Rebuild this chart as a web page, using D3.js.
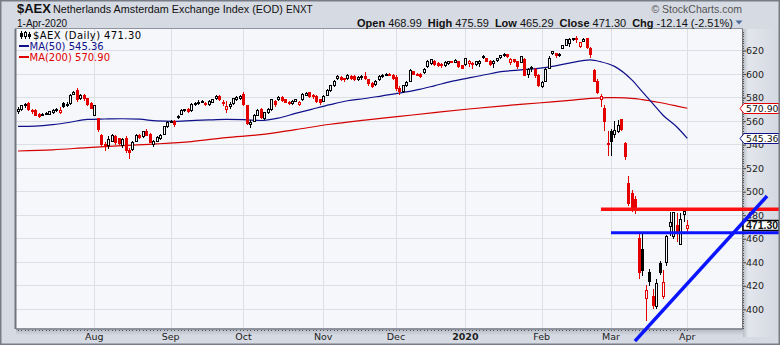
<!DOCTYPE html>
<html>
<head>
<meta charset="utf-8">
<script src="https://cdn.jsdelivr.net/npm/d3@7"></script>
<style>
    html, body { margin: 0; padding: 0; background: #d6dae3; }
    svg { display: block; }
</style>
</head>
<body>
<div id="chart"></div>
<script>
(function () {
    "use strict";

    // trading calendar (Euronext): weekdays between these dates, minus holidays
    var firstDay = "2019-07-02",
        lastDay = "2020-04-01",
        holidays = ["2019-12-25", "2019-12-26", "2020-01-01"];

    // daily OHLC, one row per month (Jul 2019 .. Apr 2020)
    var opens = [
        568, 570, 573, 575, 569, 569, 566, 565, 566, 566, 567, 569, 567, 575, 573, 575, 583, 586, 579, 582, 579, 575,
        565, 562, 548, 540, 539, 543, 547, 545, 539, 545, 535, 536, 543, 548, 547, 551, 549, 540, 543, 545, 549, 555,
        559, 560, 563, 566, 569, 570, 569, 574, 575, 576, 575, 574, 576, 579, 581, 575, 570, 572, 575, 578, 579,
        583, 573, 557, 560, 565, 570, 562, 567, 570, 577, 578, 580, 578, 576, 575, 577, 574, 578, 582, 584, 582, 581, 578,
        577, 582, 586, 590, 596, 597, 596, 596, 598, 598, 595, 598, 598, 595, 592, 591, 595, 598, 599, 600, 599,
        597, 588, 585, 590, 594, 602, 600, 600, 601, 606, 609, 611, 609, 608, 607, 609, 610, 610, 610.5, 607,
        608, 609, 609, 608, 609, 615, 613.5, 611, 609, 611.5, 614, 615.5, 616.5, 609.5, 612, 610.5, 610, 612.5, 599.5, 604.5, 604, 599,
        589.5, 593.5, 605, 617.5, 617.5, 615.5, 621.5, 624.5, 626, 629.5, 630.5, 623.5, 628, 630, 621.5, 603, 594, 578, 571, 541,
        551, 549, 551.5, 561, 541, 507, 498.6, 493, 460, 451, 409, 431, 411, 402, 439, 411, 440, 470, 462, 471, 455, 481,
        468.99
    ];
    var highs = [
        572, 574, 575, 576, 570, 570, 567, 567, 568, 569, 570, 571, 572, 576, 576, 583, 586, 588, 583, 583, 580, 576,
        574, 563, 549, 542, 547, 549, 548, 546, 546, 547, 537, 543, 549, 549, 552, 553, 550, 544, 547, 549, 556, 560,
        561, 561, 565, 570, 570, 571, 575, 576, 578, 578, 576, 578, 579, 582, 582, 578, 577, 576, 580, 581, 582,
        585, 574, 561, 566, 570, 571, 568, 571, 579, 578, 581, 581, 579, 577, 578, 579, 577, 584, 585, 585, 583, 582, 579,
        582, 587, 591, 595, 599, 598, 597, 600, 599, 599, 598, 599, 602, 596, 593, 595, 599, 600, 601, 601, 600,
        599, 590, 591, 594, 604, 603, 601, 601, 605, 612, 613, 612, 610, 609, 611, 611, 611, 613, 611, 608,
        614, 612, 610, 611, 612, 616, 614, 612, 612, 614, 616.5, 617.5, 617, 614, 613, 611, 615.5, 614, 605, 606.5, 605, 600,
        594, 605, 615, 620, 618, 617.5, 625, 629.5, 630.5, 631, 632.5, 627, 630.5, 630.5, 623, 604, 596, 583, 574, 552,
        553, 560, 561, 562, 542, 513, 501, 496, 466, 466, 421, 434, 417, 426, 441, 433, 463, 483, 483, 481.5, 482, 484,
        475.59
    ];
    var lows = [
        566, 569, 571, 569, 566, 564, 563, 564, 565, 565, 566, 568, 566, 571, 572, 574, 582, 576, 578, 577, 573, 570,
        564, 551, 538, 535, 536, 542, 540, 540, 537, 533, 528, 535, 542, 545, 546, 547, 541, 538, 542, 544, 548, 554,
        558, 555, 562, 565, 568, 567, 568, 573, 574, 575, 573, 573, 575, 578, 577, 573, 567, 570, 574, 577, 578,
        573, 557, 554, 559, 564, 562, 561, 566, 569, 572, 577, 576, 575, 574, 574, 576, 573, 577, 581, 580, 579, 575, 574,
        576, 581, 585, 589, 595, 594, 593, 595, 595, 594, 594, 595, 595, 590, 588, 590, 594, 597, 598, 598, 595,
        586, 582, 584, 589, 593, 599, 598, 597, 600, 605, 608, 607, 606, 605, 606, 608, 609, 609, 605, 604,
        607, 606, 604, 607, 606, 613, 610, 607, 605, 610, 613, 614.5, 614, 608, 609.5, 604, 609, 598, 597, 602, 597, 589,
        588, 593, 604, 616, 614, 614.5, 621, 624, 623, 628, 626, 622, 627.5, 621, 613.5, 593, 583, 572, 552, 530,
        530, 546, 550, 552, 527, 488, 483, 481, 426, 428, 390, 420, 400, 400, 429, 409, 437, 462, 460, 457.5, 455, 474,
        465.29
    ];
    var closes = [
        570, 573, 574, 570, 568, 565, 564, 566, 566.5, 568, 569, 570, 569, 572, 574, 582, 584, 578, 582, 579, 574, 571,
        573, 553, 540, 538, 544, 548, 542, 541, 544, 535, 533, 542, 548, 546, 551, 548, 542, 543, 546, 548, 555, 559,
        560, 557, 564, 569, 569.5, 568, 574, 575, 576, 577, 574, 577, 578, 580.5, 578, 576, 572, 574.5, 579, 580, 581,
        574, 558, 559, 565, 569, 563, 567, 569.5, 578, 574, 580, 577.5, 576, 575, 577, 578, 576, 583, 583.5, 581, 580.5, 577, 576,
        581, 586, 590, 594, 597.5, 595.5, 595, 599, 596.5, 595, 597, 597.5, 596, 592, 589.5, 594, 598, 599, 600, 599, 596,
        588, 585, 590, 593, 603, 600, 599.5, 597.5, 604, 611, 612, 608, 607.5, 607, 609.5, 610.5, 610.3, 611.5, 606, 605,
        613, 611, 608, 610.5, 611, 613.8, 611, 608.5, 611, 613, 615.5, 616.5, 615, 612, 610.5, 606, 614.5, 599, 604, 605.5, 598.5, 590,
        592.5, 604, 613, 619, 616, 617, 624.5, 629, 629.6, 630.2, 629.8, 626.5, 629.5, 622.5, 616.5, 594, 584, 581, 560, 540,
        543, 552, 556.5, 553, 530, 490, 486, 485, 431, 433, 416, 424, 403, 422, 431, 423, 461.5, 474, 482, 466, 476, 483.44,
        471.30
    ];

    var ma50At = [0, 5, 10, 15, 20, 25, 30, 35, 40, 45, 50, 55, 60, 65, 70, 75, 80, 85, 90, 95, 100, 105, 110, 115,
        120, 125, 130, 135, 140, 145, 150, 155, 160, 165, 168, 172, 177, 180, 183, 186, 190, 193];
    var ma50 = [555.5, 555.8, 557, 559, 561.5, 561.8, 562, 561.6, 560.2, 559.8, 560.4, 561, 561.4, 561.3, 560.5, 562.5,
        566.5, 570.3, 574, 577.3, 579.2, 581.5, 583.8, 586.5, 590, 593.7, 596.7, 599.6, 602.2, 603.5, 604.8, 607, 610,
        612, 610.5, 606.5, 595, 585, 575, 565, 555, 545.36];
    var ma200At = [0, 10, 20, 30, 40, 50, 60, 70, 80, 90, 100, 110, 120, 130, 140, 150, 160, 170, 175, 180, 185, 190, 193];
    var ma200 = [534.6, 535.6, 537.5, 539.2, 540.6, 542.6, 546, 548.5, 552.8, 557.3, 560.8, 564, 567.2, 570.3, 573,
        575.4, 577.9, 579.9, 579.8, 578.3, 575.8, 572.8, 570.9];

    // hand-drawn annotations: two levels and a rising trend line
    var levelValues = [485, 465],
        levelStarts = [168.1, 171];
    var trendAt = [177.9, 216],
        trendValues = [373, 496.3];

    var monthKeys = ["2019-08", "2019-09", "2019-10", "2019-11", "2019-12", "2020-01", "2020-02", "2020-03", "2020-04"],
        monthLabels = ["Aug", "Sep", "Oct", "Nov", "Dec", "2020", "Feb", "Mar", "Apr"];
    var priceTicks = [400, 420, 440, 460, 480, 500, 520, 540, 560, 580, 600, 620];

    var quoteLabels = ["Open", "High", "Low", "Close", "Chg"],
        quoteValues = ["468.99", "475.59", "465.29", "471.30", "-12.14 (-2.51%)"];

    var width = 780,
        height = 345,
        plotL = 16, plotT = 29, plotR = 743, plotB = 329,
        plotBg = "#f6f7fb",
        red = "#e50000",
        navy = "#10108a",
        axisFont = "'DejaVu Sans', Verdana, sans-serif",
        headFont = "'Liberation Sans', Arial, sans-serif";

    var parse = d3.utcParse("%Y-%m-%d"),
        dayKey = d3.utcFormat("%Y-%m-%d"),
        monthKey = d3.utcFormat("%Y-%m");

    var days = d3.utcDay.range(parse(firstDay), d3.utcDay.offset(parse(lastDay), 1))
        .filter(function (d) {
            return d.getUTCDay() % 6 !== 0 && holidays.indexOf(dayKey(d)) < 0;
        });

    var bars = days.map(function (d, i) {
        return { i: i, date: d, o: opens[i], h: highs[i], l: lows[i], c: closes[i], prev: i ? closes[i - 1] : opens[i] };
    });

    var x = d3.scaleLinear().domain([-0.58, 209.06]).range([plotL, plotR]),
        y = d3.scaleLinear().domain([383.25, 638.3]).range([plotB, plotT]);

    var svg = d3.select("#chart").append("svg")
        .attr("width", width)
        .attr("height", height);

    var defs = svg.append("defs");
    var side = defs.append("linearGradient").attr("id", "side");
    side.append("stop").attr("offset", "0%").attr("stop-color", "#b9bec8");
    side.append("stop").attr("offset", "14%").attr("stop-color", "#e3e6ec");
    side.append("stop").attr("offset", "100%").attr("stop-color", "#d3d7e0");
    var under = defs.append("linearGradient").attr("id", "under")
        .attr("x1", 0).attr("x2", 0).attr("y1", 0).attr("y2", 1);
    under.append("stop").attr("offset", "0%").attr("stop-color", "#b3b8c2");
    under.append("stop").attr("offset", "45%").attr("stop-color", "#d6dae3");
    under.append("stop").attr("offset", "100%").attr("stop-color", "#d6dae3");
    defs.append("clipPath").attr("id", "plotclip").append("rect")
        .attr("x", plotL).attr("y", plotT).attr("width", plotR - plotL).attr("height", plotB - plotT);

    svg.append("rect").attr("width", width).attr("height", height).attr("fill", "#d6dae3");
    svg.append("rect").attr("x", plotR).attr("y", plotT).attr("width", width - plotR).attr("height", plotB - plotT + 8)
        .attr("fill", "url(#side)");
    svg.append("rect").attr("x", plotL).attr("y", plotB).attr("width", plotR - plotL).attr("height", 14)
        .attr("fill", "url(#under)");
    svg.append("rect").attr("x", plotL).attr("y", plotT).attr("width", plotR - plotL).attr("height", plotB - plotT)
        .attr("fill", plotBg);

    // grid
    var grid = svg.append("g").attr("stroke", "#dcdfe6").attr("stroke-width", 1).attr("shape-rendering", "crispEdges");
    grid.selectAll("line.h").data(priceTicks).enter().append("line")
        .attr("x1", plotL).attr("x2", plotR)
        .attr("y1", function (d) { return y(d); })
        .attr("y2", function (d) { return y(d); });

    var monthIdx = monthKeys.map(function (k) {
        return d3.bisector(function (b) { return monthKey(b.date); }).left(bars, k);
    });
    grid.selectAll("line.v").data(monthIdx).enter().append("line")
        .attr("y1", plotT).attr("y2", plotB)
        .attr("x1", function (d) { return Math.round(x(d)) + 0.5; })
        .attr("x2", function (d) { return Math.round(x(d)) + 0.5; });

    var plot = svg.append("g").attr("clip-path", "url(#plotclip)");

    // moving averages
    var maLine = d3.line()
        .x(function (d) { return x(d[0]); })
        .y(function (d) { return y(d[1]); })
        .curve(d3.curveMonotoneX);
    plot.append("path").datum(d3.zip(ma200At, ma200))
        .attr("d", maLine).attr("fill", "none").attr("stroke", "#d40000").attr("stroke-width", 1.2);
    plot.append("path").datum(d3.zip(ma50At, ma50))
        .attr("d", maLine).attr("fill", "none").attr("stroke", navy).attr("stroke-width", 1.2);

    // candles: red when close < previous close, hollow when close > open
    var colour = function (d) { return d.c < d.prev ? red : "#000"; };
    var candles = plot.append("g").attr("shape-rendering", "crispEdges")
        .selectAll("g").data(bars).enter().append("g");
    candles.append("line")
        .attr("x1", function (d) { return Math.round(x(d.i)) + 0.5; })
        .attr("x2", function (d) { return Math.round(x(d.i)) + 0.5; })
        .attr("y1", function (d) { return y(d.h); })
        .attr("y2", function (d) { return y(d.l); })
        .attr("stroke", colour);
    candles.append("rect")
        .attr("x", function (d) { return Math.round(x(d.i)) - 0.5; })
        .attr("width", 2)
        .attr("y", function (d) { return y(Math.max(d.o, d.c)); })
        .attr("height", function (d) { return Math.max(1, Math.abs(y(d.o) - y(d.c))); })
        .attr("fill", function (d) { return d.c > d.o ? plotBg : colour(d); })
        .attr("stroke", colour);

    // frame and axes
    svg.append("rect").attr("x", plotL - 0.5).attr("y", plotT - 0.5)
        .attr("width", plotR - plotL).attr("height", plotB - plotT)
        .attr("fill", "none").attr("stroke", "#8f949e");
    svg.append("line").attr("x1", plotL - 0.5).attr("x2", plotL - 0.5).attr("y1", plotT).attr("y2", plotB)
        .attr("stroke", "#6f747e").attr("stroke-width", 2);

    var yAxis = svg.append("g").attr("transform", "translate(" + plotR + ",0)")
        .call(d3.axisRight(y).tickValues(priceTicks).tickSize(3).tickPadding(0));
    yAxis.select(".domain").remove();
    yAxis.selectAll(".tick line").attr("stroke", "#444");
    yAxis.selectAll(".tick text").attr("font-family", axisFont).attr("font-size", "9.5px").attr("fill", "#222")
        .attr("x", 3);
    svg.append("g").attr("stroke", "#555").attr("shape-rendering", "crispEdges")
        .selectAll("line").data(d3.range(384, 638, 2)).enter().append("line")
        .attr("x1", plotR).attr("x2", plotR + 1)
        .attr("y1", function (d) { return Math.round(y(d)) + 0.5; })
        .attr("y2", function (d) { return Math.round(y(d)) + 0.5; });
    svg.append("line").attr("x1", plotR - 0.5).attr("x2", plotR - 0.5).attr("y1", plotT).attr("y2", plotB)
        .attr("stroke", "#777");

    svg.append("g").attr("stroke", "#555").attr("shape-rendering", "crispEdges")
        .selectAll("line").data(bars).enter().append("line")
        .attr("x1", function (d) { return Math.round(x(d.i)) + 0.5; })
        .attr("x2", function (d) { return Math.round(x(d.i)) + 0.5; })
        .attr("y1", plotB).attr("y2", plotB + 1.5);
    svg.append("line").attr("x1", plotL).attr("x2", plotR).attr("y1", plotB + 0.5).attr("y2", plotB + 0.5)
        .attr("stroke", "#8a8f99");

    svg.append("g").selectAll("text").data(monthIdx).enter().append("text")
        .attr("x", function (d) { return x(d); })
        .attr("y", 340)
        .attr("text-anchor", "middle")
        .attr("font-family", axisFont)
        .attr("font-size", "9.5px")
        .attr("font-weight", function (d, i) { return monthLabels[i] === "2020" ? "bold" : "normal"; })
        .attr("fill", "#222")
        .text(function (d, i) { return monthLabels[i]; });

    // value tags on the right axis
    function tag(value, stroke, bold) {
        var cy = Math.round(y(value)) + 0.5,
            g = svg.append("g");
        var pts = bold ?
            [[plotR, cy - 5], [width - 1, cy - 5], [width - 1, cy + 5], [plotR, cy + 5]] :
            [[plotR + 1, cy - 5], [width - 1, cy - 5], [width - 1, cy + 5], [plotR + 1, cy + 5], [plotR - 3, cy]];
        g.append("polygon").attr("points", pts.join(" "))
            .attr("fill", "#fff").attr("stroke", stroke).attr("stroke-width", bold ? 1.5 : 1);
        g.append("text").attr("x", plotR + 3).attr("y", cy + 3.6)
            .attr("font-family", bold ? headFont : axisFont)
            .attr("font-size", bold ? "10.5px" : "9.3px")
            .attr("font-weight", bold ? "bold" : "normal").attr("fill", "#111")
            .text(d3.format(".2f")(value));
    }
    tag(ma200[ma200.length - 1], "#e00000", false);
    tag(ma50[ma50.length - 1], navy, false);
    tag(closes[closes.length - 1], "#000", true);

    // annotations
    var levelColours = ["#ff1010", "#0a14ff"],
        levelWidths = [3.5, 3];
    levelValues.forEach(function (v, k) {
        svg.append("line")
            .attr("x1", x(levelStarts[k])).attr("x2", width - 1)
            .attr("y1", y(v)).attr("y2", y(v))
            .attr("stroke", levelColours[k]).attr("stroke-width", levelWidths[k]);
    });
    svg.append("line")
        .attr("x1", x(trendAt[0])).attr("y1", y(trendValues[0]))
        .attr("x2", x(trendAt[1])).attr("y2", y(trendValues[1]))
        .attr("stroke", "#0a14ff").attr("stroke-width", 3.5);

    // legend
    var legend = svg.append("g").attr("font-family", axisFont).attr("font-size", "10px");
    var icon = legend.append("g").attr("stroke", "#000").attr("shape-rendering", "crispEdges");
    icon.append("line").attr("x1", 21.5).attr("x2", 21.5).attr("y1", 31).attr("y2", 39);
    icon.append("rect").attr("x", 20.5).attr("y", 33.5).attr("width", 2).attr("height", 3).attr("fill", "#000");
    icon.append("line").attr("x1", 25.5).attr("x2", 25.5).attr("y1", 31).attr("y2", 39);
    icon.append("rect").attr("x", 24.5).attr("y", 32.5).attr("width", 2).attr("height", 4).attr("fill", "#fff");
    icon.append("line").attr("x1", 29.5).attr("x2", 29.5).attr("y1", 32).attr("y2", 39);
    icon.append("rect").attr("x", 28.5).attr("y", 34.5).attr("width", 2).attr("height", 2).attr("fill", "#000");
    legend.append("text").attr("x", 33).attr("y", 38.5).attr("fill", "#000")
        .attr("letter-spacing", "0.4px")
        .text("$AEX (Daily) " + d3.format(".2f")(closes[closes.length - 1]));
    legend.append("line").attr("x1", 19).attr("x2", 29).attr("y1", 46).attr("y2", 46)
        .attr("stroke", navy).attr("stroke-width", 2);
    legend.append("text").attr("x", 29.5).attr("y", 49.5).attr("fill", navy)
        .text("MA(50) " + d3.format(".2f")(ma50[ma50.length - 1]));
    legend.append("line").attr("x1", 19).attr("x2", 29).attr("y1", 57).attr("y2", 57)
        .attr("stroke", "#e00000").attr("stroke-width", 2);
    legend.append("text").attr("x", 29.5).attr("y", 60.5).attr("fill", "#e00000")
        .text("MA(200) " + d3.format(".2f")(ma200[ma200.length - 1]));

    // header
    var head = svg.append("g").attr("font-family", headFont).attr("fill", "#111");
    head.append("text").attr("x", 17).attr("y", 13).attr("font-size", "13px").attr("font-weight", "bold")
        .text("$AEX");
    head.append("text").attr("x", 53).attr("y", 12.5).attr("font-size", "10.8px")
        .text("Netherlands Amsterdam Exchange Index (EOD)");
    head.append("text").attr("x", 286).attr("y", 12.5).attr("font-size", "10px")
        .text("ENXT");
    head.append("text").attr("x", 17).attr("y", 26.5).attr("font-size", "10px")
        .text(d3.utcFormat("%-d-%b-%Y")(days[days.length - 1]));
    head.append("text").attr("x", 742).attr("y", 13).attr("text-anchor", "end")
        .attr("font-size", "10.5px").attr("fill", "#555")
        .text("\u00a9 StockCharts.com");

    var quote = head.append("text").attr("x", 733).attr("y", 26.5).attr("text-anchor", "end")
        .attr("font-size", "11px");
    quoteLabels.forEach(function (lab, k) {
        quote.append("tspan").attr("font-weight", "bold").attr("dx", k ? 6 : 0).text(lab);
        quote.append("tspan").attr("dx", 3).text(quoteValues[k]);
    });
    head.append("path").attr("d", "M735.5,20.5 L742.5,20.5 L739,24.5 Z").attr("fill", "#4d6c9c");

    // outer border
    svg.append("rect").attr("x", 0.75).attr("y", 0.75).attr("width", width - 1.5).attr("height", height - 1.5)
        .attr("fill", "none").attr("stroke", "#777c86").attr("stroke-width", 1.5);
})();
</script>
</body>
</html>
